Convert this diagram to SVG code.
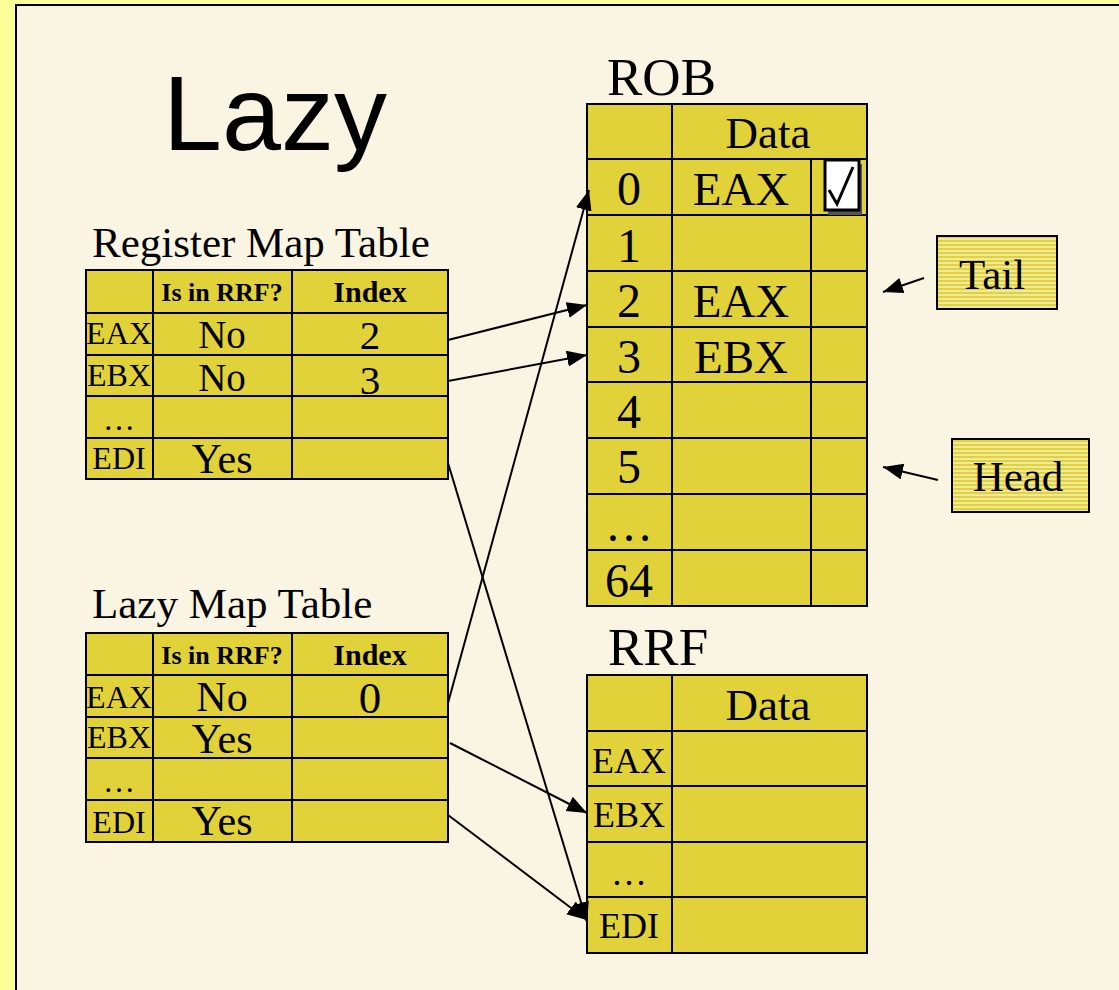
<svg xmlns="http://www.w3.org/2000/svg" width="1119" height="990" viewBox="0 0 1119 990">
<defs>
<style>
.cell{fill:#E2D23A;stroke:#000;stroke-width:2}
.ln{stroke:#000;stroke-width:2;fill:none}
.s{font-family:"Liberation Serif","Times New Roman",serif;fill:#000}
.m{text-anchor:middle}
.b{font-weight:bold}
.con{stroke:#000;stroke-width:2;fill:none;marker-end:url(#ah)}
</style>
<marker id="ah" markerUnits="userSpaceOnUse" markerWidth="22" markerHeight="18" refX="20" refY="8" orient="auto">
<path d="M0,0 L20,8 L0,16 Z" fill="#000"/>
</marker>
<pattern id="stripe" width="8" height="4" patternUnits="userSpaceOnUse">
<rect width="8" height="4" fill="#E2D23A"/>
<rect y="2.5" width="8" height="1" fill="#FFFFFF"/>
</pattern>
</defs>
<rect width="1119" height="990" fill="#FFFF99"/>
<rect x="16" y="5" width="1120" height="1000" fill="#FAF4E3" stroke="#000" stroke-width="2"/>
<text x="163" y="150" font-family="Liberation Sans, Arial, sans-serif" font-size="106" fill="#000">Lazy</text>

<g id="register-map-table">
<text class="s" x="92" y="257" font-size="43">Register Map Table</text>
<rect class="cell" x="86" y="270" width="362" height="209"/>
<path class="ln" d="M86,313H448M86,355H448M86,396H448M86,438H448M153,270V479M292,270V479"/>
<text class="s m b" x="222" y="301" font-size="26">Is in RRF?</text>
<text class="s m b" x="370" y="302" font-size="30">Index</text>
<text class="s m" x="119" y="344" font-size="32">EAX</text>
<text class="s m" x="222" y="348" font-size="39">No</text>
<text class="s m" x="370" y="349" font-size="41">2</text>
<text class="s m" x="119" y="386" font-size="32">EBX</text>
<text class="s m" x="222" y="391" font-size="39">No</text>
<text class="s m" x="370" y="394" font-size="41">3</text>
<text class="s m" x="119" y="430" font-size="32">…</text>
<text class="s m" x="119" y="469" font-size="32">EDI</text>
<text class="s m" x="222" y="473" font-size="42">Yes</text>
</g>

<g id="lazy-map-table">
<text class="s" x="92" y="618" font-size="43">Lazy Map Table</text>
<rect class="cell" x="86" y="633" width="362" height="209"/>
<path class="ln" d="M86,675H448M86,717H448M86,758H448M86,800H448M153,633V842M292,633V842"/>
<text class="s m b" x="222" y="664" font-size="26">Is in RRF?</text>
<text class="s m b" x="370" y="665" font-size="30">Index</text>
<text class="s m" x="119" y="708" font-size="32">EAX</text>
<text class="s m" x="222" y="711" font-size="42">No</text>
<text class="s m" x="370" y="713" font-size="45">0</text>
<text class="s m" x="119" y="748" font-size="32">EBX</text>
<text class="s m" x="222" y="753" font-size="42">Yes</text>
<text class="s m" x="119" y="792" font-size="32">…</text>
<text class="s m" x="119" y="833" font-size="32">EDI</text>
<text class="s m" x="222" y="835" font-size="42">Yes</text>
</g>

<g id="rob">
<text class="s" x="607" y="95" font-size="53">ROB</text>
<rect class="cell" x="587" y="104" width="280" height="502"/>
<path class="ln" d="M587,159H867M587,215H867M587,271H867M587,327H867M587,382H867M587,438H867M587,494H867M587,550H867M672,104V606M811,159V606"/>
<text class="s m" x="768" y="148" font-size="45">Data</text>
<text class="s m" x="629" y="205" font-size="48">0</text>
<text class="s m" x="741" y="205" font-size="47">EAX</text>
<text class="s m" x="629" y="262" font-size="48">1</text>
<text class="s m" x="629" y="317" font-size="48">2</text>
<text class="s m" x="741" y="317" font-size="47">EAX</text>
<text class="s m" x="629" y="373" font-size="48">3</text>
<text class="s m" x="741" y="373" font-size="47">EBX</text>
<text class="s m" x="629" y="428" font-size="48">4</text>
<text class="s m" x="629" y="483" font-size="48">5</text>
<text class="s m" x="629" y="541" font-size="48">…</text>
<text class="s m" x="629" y="597" font-size="48">64</text>
<rect x="828" y="164" width="34" height="51" fill="#555"/>
<rect x="825" y="160" width="34" height="50" fill="#FFF" stroke="#000" stroke-width="3"/>
<path d="M829,190 L837,204 L853,167" fill="none" stroke="#000" stroke-width="3"/>
</g>

<g id="tail">
<rect x="937" y="236" width="120" height="73" fill="url(#stripe)" stroke="#000" stroke-width="2"/>
<text class="s m" x="992" y="289" font-size="43">Tail</text>
</g>
<g id="head">
<rect x="952" y="439" width="137" height="73" fill="url(#stripe)" stroke="#000" stroke-width="2"/>
<text class="s m" x="1018" y="491" font-size="43">Head</text>
</g>

<g id="rrf">
<text class="s" x="608" y="665" font-size="53">RRF</text>
<rect class="cell" x="587" y="675" width="280" height="278"/>
<path class="ln" d="M587,731H867M587,786H867M587,842H867M587,897H867M672,675V953"/>
<text class="s m" x="768" y="720" font-size="45">Data</text>
<text class="s m" x="629" y="773" font-size="36">EAX</text>
<text class="s m" x="629" y="827" font-size="36">EBX</text>
<text class="s m" x="629" y="885" font-size="36">…</text>
<text class="s m" x="629" y="938" font-size="36">EDI</text>
</g>

<g id="connectors">
<line class="con" x1="448" y1="340" x2="587" y2="305"/>
<line class="con" x1="448" y1="381" x2="587" y2="355"/>
<line class="con" x1="448" y1="703" x2="589" y2="190"/>
<line class="con" x1="448" y1="463" x2="587" y2="922"/>
<line class="con" x1="450" y1="743" x2="587" y2="813"/>
<line class="con" x1="448" y1="815" x2="587" y2="920"/>
<line class="con" x1="924" y1="278" x2="883" y2="292"/>
<line class="con" x1="938" y1="480" x2="883" y2="467"/>
</g>
</svg>
